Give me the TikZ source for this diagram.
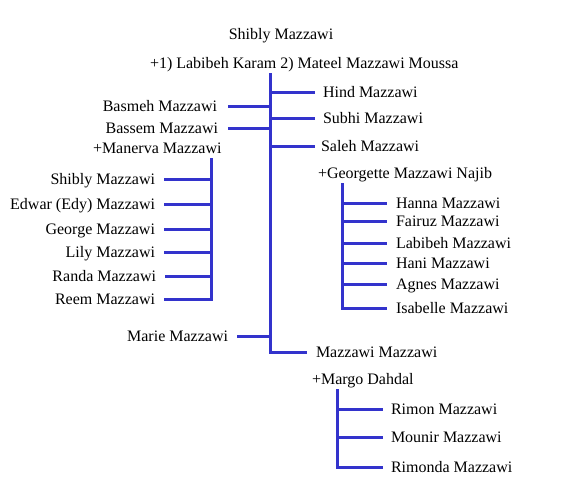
\documentclass[tikz,border=0pt]{standalone}
\usepackage{fontspec}
\setmainfont{Liberation Serif}
\begin{document}
\begin{tikzpicture}[x=1pt,y=-1pt,
  br/.style={draw={rgb,255:red,51;green,51;blue,204},line width=3pt},
  nm/.style={inner sep=0pt,outer sep=0pt,text height=10pt,text depth=0pt,font=\fontsize{16}{19}\selectfont},
  rn/.style={nm,anchor=west},
  ln/.style={nm,anchor=east},
  tn/.style={inner sep=0pt,outer sep=0pt,font=\fontsize{16}{19}\selectfont}]
\useasboundingbox (0,0) rectangle (576,498);
% header
\node[tn,anchor=base] (root) at (281,39) {Shibly Mazzawi};
\node[tn,anchor=base west] (spouse) at (150,68) {+1) Labibeh Karam 2) Mateel Mazzawi Moussa};
% trunk
\coordinate (t0) at (270,73);
\node[rn] (hind) at (323,92) {Hind Mazzawi};
\node[rn] (subhi) at (323,118) {Subhi Mazzawi};
\node[rn] (saleh) at (321,146) {Saleh Mazzawi};
\node[ln] (basmeh) at (217,106) {Basmeh Mazzawi};
\node[ln] (bassem) at (218,128) {Bassem Mazzawi};
\node[tn,anchor=base west] (manerva) at (93,153) {+Manerva Mazzawi};
\node[ln] (marie) at (228,336) {Marie Mazzawi};
\node[rn] (mm) at (316,352) {Mazzawi Mazzawi};
\draw[br] (t0) -- (t0 |- mm.west) -- ([xshift=-9pt]mm.west);
\draw[br] (hind.west -| t0) -- ([xshift=-8pt]hind.west);
\draw[br] (subhi.west -| t0) -- ([xshift=-8pt]subhi.west);
\draw[br] (saleh.west -| t0) -- ([xshift=-6pt]saleh.west);
\draw[br] ([xshift=11pt]basmeh.east) -- (basmeh.east -| t0);
\draw[br] ([xshift=10pt]bassem.east) -- (bassem.east -| t0);
\draw[br] ([xshift=9pt]marie.east) -- (marie.east -| t0);
% Manerva children
\coordinate (m0) at (211,158);
\node[ln] (shibly2) at (155,179) {Shibly Mazzawi};
\node[ln] (edwar) at (155,204) {Edwar (Edy) Mazzawi};
\node[ln] (george) at (155,229) {George Mazzawi};
\node[ln] (lily) at (155,252) {Lily Mazzawi};
\node[ln] (randa) at (156,276) {Randa Mazzawi};
\node[ln] (reem) at (155,299) {Reem Mazzawi};
\draw[br] (m0) -- (m0 |- reem.east) -- ([xshift=9pt]reem.east);
\foreach \n in {shibly2,edwar,george,lily,randa}
  \draw[br] ([xshift=9pt]\n.east) -- (\n.east -| m0);
% Georgette children
\node[tn,anchor=base west] (georgette) at (318,178) {+Georgette Mazzawi Najib};
\coordinate (g0) at (342,183);
\node[rn] (hanna) at (396,203) {Hanna Mazzawi};
\node[rn] (fairuz) at (396,221) {Fairuz Mazzawi};
\node[rn] (labibeh) at (396,243) {Labibeh Mazzawi};
\node[rn] (hani) at (396,263) {Hani Mazzawi};
\node[rn] (agnes) at (396,284) {Agnes Mazzawi};
\node[rn] (isabelle) at (396,308) {Isabelle Mazzawi};
\draw[br] (g0) -- (g0 |- isabelle.west) -- ([xshift=-9pt]isabelle.west);
\foreach \n in {hanna,fairuz,labibeh,hani,agnes}
  \draw[br] (\n.west -| g0) -- ([xshift=-9pt]\n.west);
% Margo children
\node[tn,anchor=base west] (margo) at (312,384) {+Margo Dahdal};
\coordinate (d0) at (337,389);
\node[rn] (rimon) at (391,409) {Rimon Mazzawi};
\node[rn] (mounir) at (391,437) {Mounir Mazzawi};
\node[rn] (rimonda) at (391,467) {Rimonda Mazzawi};
\draw[br] (d0) -- (d0 |- rimonda.west) -- ([xshift=-8pt]rimonda.west);
\foreach \n in {rimon,mounir}
  \draw[br] (\n.west -| d0) -- ([xshift=-8pt]\n.west);
\end{tikzpicture}
\end{document}
